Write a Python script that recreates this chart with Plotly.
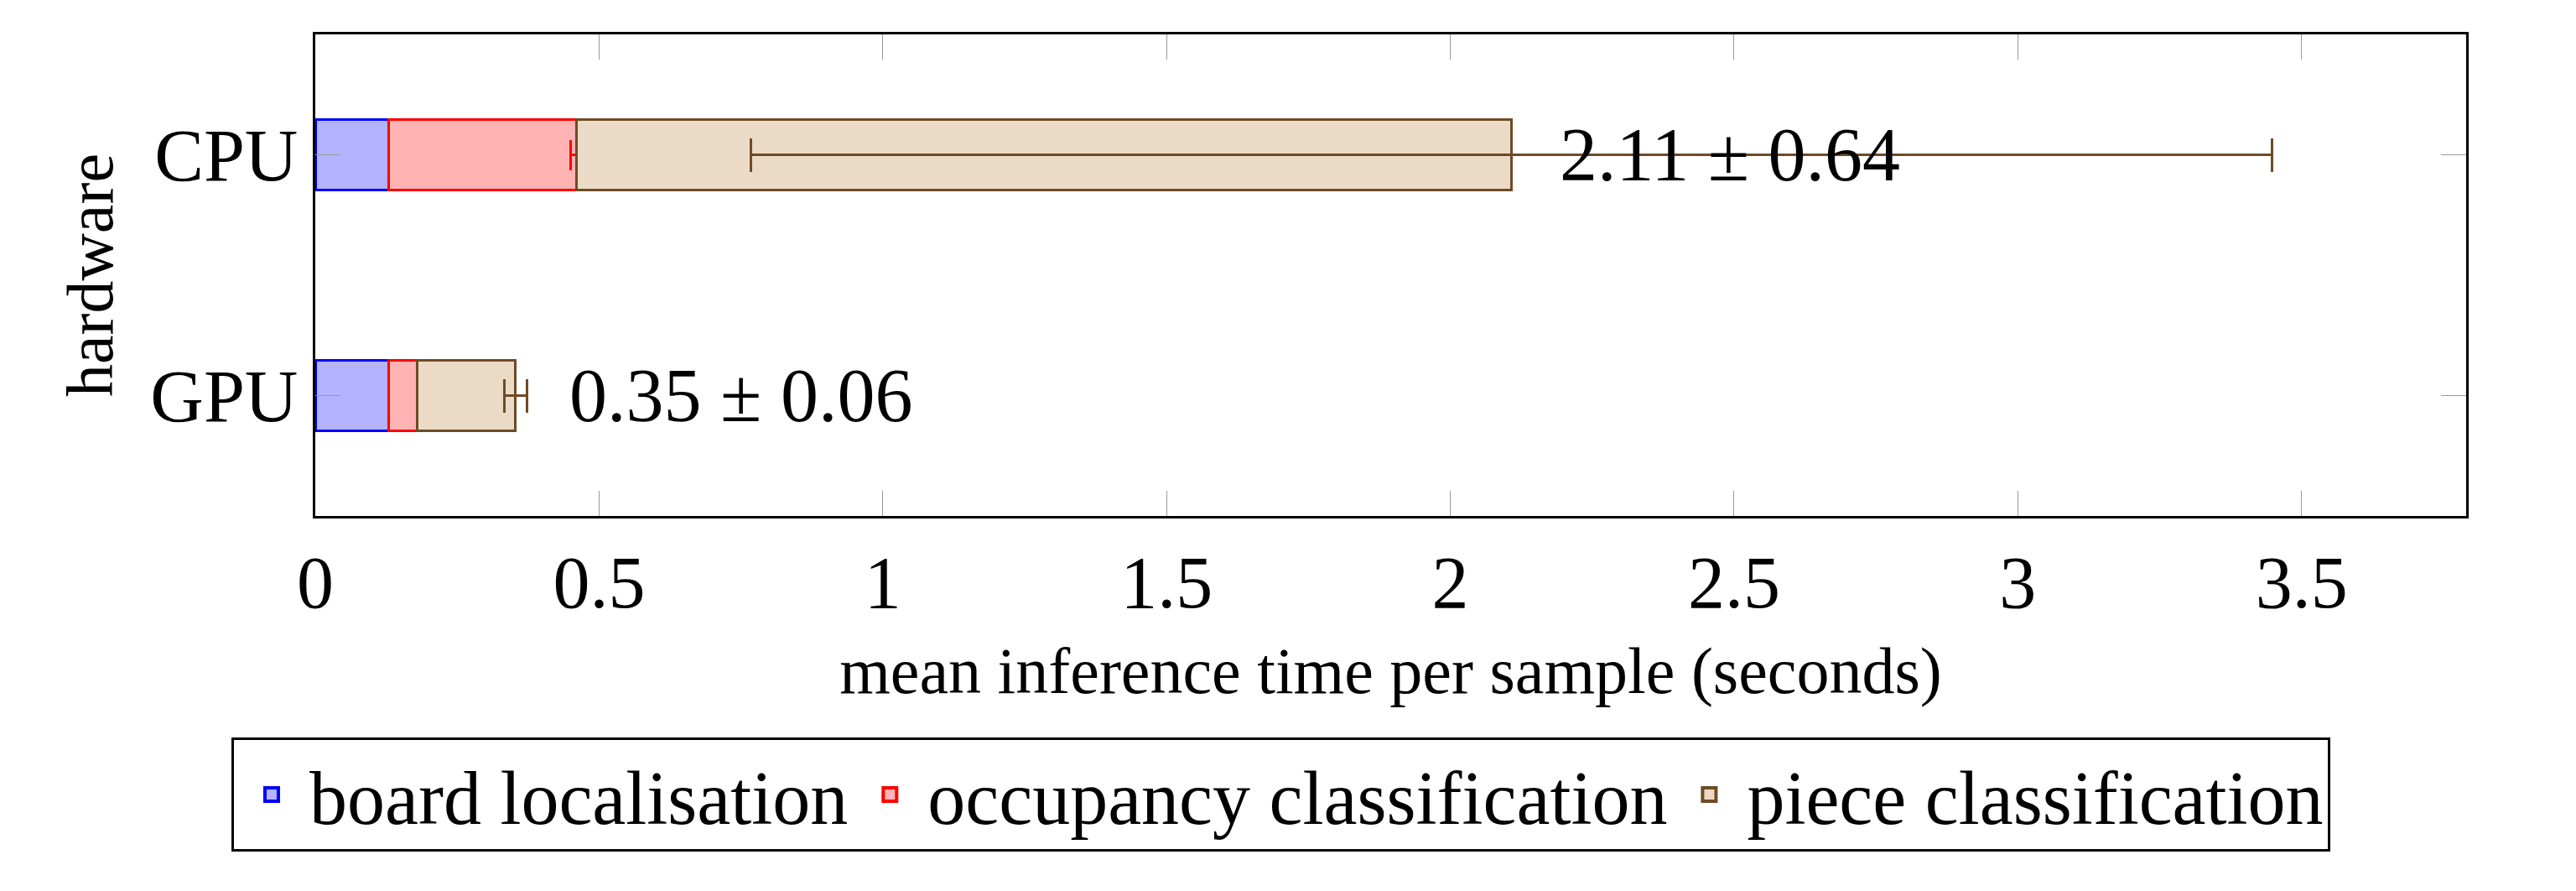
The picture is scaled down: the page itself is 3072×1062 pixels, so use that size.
import plotly.graph_objects as go

hardware = ["GPU", "CPU"]
board = [0.13, 0.13]
occupancy = [0.05, 0.33]
occupancy_err = [0.0, 0.01]
piece = [0.173, 1.648]
piece_err = [0.02, 1.34]
total_labels = ["0.35 ± 0.06", "2.11 ± 0.64"]
label_x = [0.445, 2.19]
series_names = ["board localisation", "occupancy classification", "piece classification"]

font = "Liberation Serif"
brown = "#6e4b26"
fills = ["#b3b3ff", "#ffb3b3", "#ebdac5"]
edges = ["blue", "red", brown]

fig = go.Figure()
fig.add_trace(go.Bar(
    y=hardware, x=board, orientation="h", showlegend=False,
    marker=dict(color=fills[0], line=dict(color=edges[0], width=3)),
))
fig.add_trace(go.Bar(
    y=hardware, x=occupancy, orientation="h", showlegend=False,
    marker=dict(color=fills[1], line=dict(color=edges[1], width=3)),
    error_x=dict(type="data", array=occupancy_err, color="red", thickness=3, width=18),
))
fig.add_trace(go.Bar(
    y=hardware, x=piece, orientation="h", showlegend=False,
    marker=dict(color=fills[2], line=dict(color=edges[2], width=3)),
    error_x=dict(type="data", array=piece_err, color=brown, thickness=3, width=20),
))

# legend-only entries with larger square symbols
for name, fc, ec in zip(series_names, fills, edges):
    fig.add_trace(go.Scatter(
        x=[None], y=[None], mode="markers", name=name,
        marker=dict(symbol="square", size=60, color=fc, line=dict(color=ec, width=4)),
    ))

for h, lx, txt in zip(hardware, label_x, total_labels):
    fig.add_annotation(x=lx, y=h, text=txt, showarrow=False, xanchor="left",
                       font=dict(family=font, size=90, color="black"))

fig.update_layout(
    barmode="stack",
    bargap=0.71,
    width=3072, height=1062,
    margin=dict(l=368, r=139, t=33, b=455),
    plot_bgcolor="white", paper_bgcolor="white",
    font=dict(family=font, size=88, color="black"),
    showlegend=True,
    legend=dict(orientation="h", x=-0.039, y=-0.46, xanchor="left", yanchor="top",
                bordercolor="black", borderwidth=3, font=dict(size=90),
                traceorder="normal", itemwidth=80),
)
fig.update_xaxes(
    range=[0, 3.79], tickvals=[0, 0.5, 1, 1.5, 2, 2.5, 3, 3.5],
    ticktext=["0", "0.5", "1", "1.5", "2", "2.5", "3", "3.5"],
    ticks="inside", ticklen=30, tickcolor="#999999", mirror="ticks",
    showline=True, linecolor="black", linewidth=3, showgrid=False, zeroline=False,
    title=dict(text="mean inference time per sample (seconds)", standoff=30,
               font=dict(size=78)),
)
fig.update_yaxes(
    range=[-0.5, 1.5], ticks="inside", ticklen=30, tickcolor="#999999", mirror="ticks",
    showline=True, linecolor="black", linewidth=3, showgrid=False,
    title=dict(text="hardware", standoff=20, font=dict(size=78)),
)

fig.write_html("out.html")
